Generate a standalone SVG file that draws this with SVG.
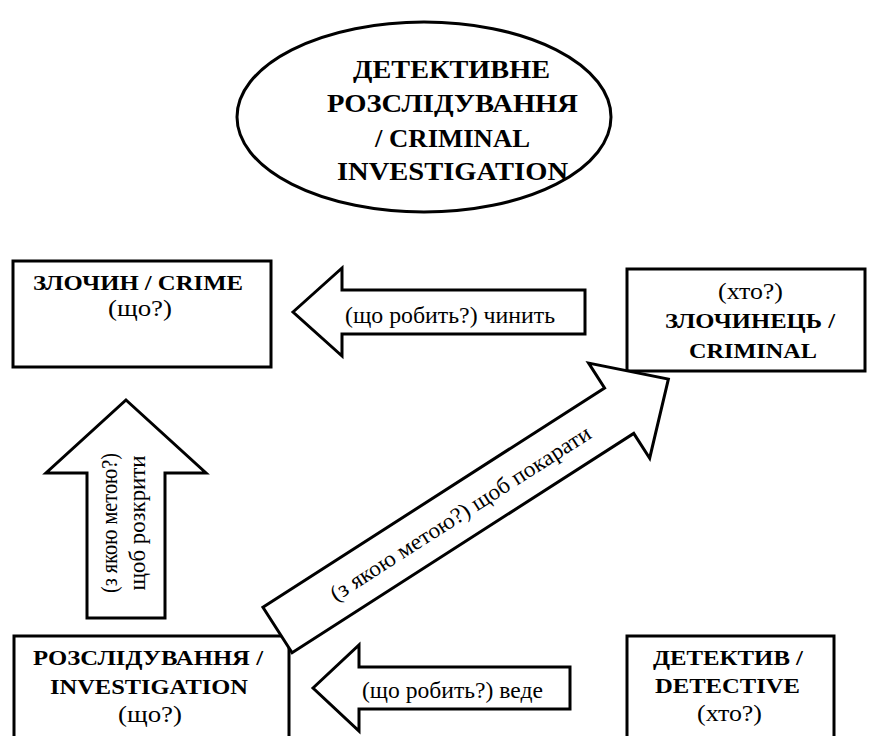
<svg xmlns="http://www.w3.org/2000/svg" width="869" height="736" viewBox="0 0 869 736">
<style>
.shape{fill:#fff;stroke:#000;stroke-width:3;stroke-linejoin:miter}
.t{font-family:"Liberation Serif","DejaVu Serif",serif;font-weight:700;font-size:25px;text-anchor:middle;fill:#000}
.b{font-family:"Liberation Serif","DejaVu Serif",serif;font-weight:700;font-size:21.3px;text-anchor:middle;fill:#000}
.r{font-family:"Liberation Serif","DejaVu Serif",serif;font-size:22.5px;text-anchor:middle;fill:#000}
</style>
<rect width="869" height="736" fill="#fff"/>
<g id="nodes">
  <g id="title">
    <ellipse class="shape" cx="424" cy="117" rx="187" ry="95"/>
    <text class="t" x="451.5" y="78" textLength="197" lengthAdjust="spacingAndGlyphs">ДЕТЕКТИВНЕ</text>
    <text class="t" x="452.5" y="112" textLength="251" lengthAdjust="spacingAndGlyphs">РОЗСЛІДУВАННЯ</text>
    <text class="t" x="452.5" y="146.5" textLength="155" lengthAdjust="spacingAndGlyphs">/ CRIMINAL</text>
    <text class="t" x="452.5" y="180" textLength="231" lengthAdjust="spacingAndGlyphs">INVESTIGATION</text>
  </g>
  <g id="crime">
    <rect class="shape" x="13" y="261" width="258" height="106"/>
    <text class="b" x="138" y="290" textLength="210" lengthAdjust="spacingAndGlyphs">ЗЛОЧИН / CRIME</text>
    <text class="r" x="140" y="316" textLength="64" lengthAdjust="spacingAndGlyphs">(що?)</text>
  </g>
  <g id="criminal">
    <rect class="shape" x="627" y="269" width="238" height="102"/>
    <text class="r" x="750.5" y="299" textLength="65" lengthAdjust="spacingAndGlyphs">(хто?)</text>
    <text class="b" x="750" y="328" textLength="170" lengthAdjust="spacingAndGlyphs">ЗЛОЧИНЕЦЬ /</text>
    <text class="b" x="753" y="358" textLength="128" lengthAdjust="spacingAndGlyphs">CRIMINAL</text>
  </g>
  <g id="investigation">
    <rect class="shape" x="14" y="636" width="275" height="120"/>
    <text class="b" x="148" y="665" textLength="230" lengthAdjust="spacingAndGlyphs">РОЗСЛІДУВАННЯ /</text>
    <text class="b" x="149" y="694" textLength="198" lengthAdjust="spacingAndGlyphs">INVESTIGATION</text>
    <text class="r" x="150" y="722" textLength="64" lengthAdjust="spacingAndGlyphs">(що?)</text>
  </g>
  <g id="detective">
    <rect class="shape" x="627" y="636" width="207" height="120"/>
    <text class="b" x="728" y="665" textLength="150" lengthAdjust="spacingAndGlyphs">ДЕТЕКТИВ /</text>
    <text class="b" x="727.5" y="693" textLength="145" lengthAdjust="spacingAndGlyphs">DETECTIVE</text>
    <text class="r" x="729.5" y="721" textLength="65" lengthAdjust="spacingAndGlyphs">(хто?)</text>
  </g>
</g>
<g id="connectors">
  <g id="arrow-commits">
    <polygon class="shape" points="293,312 342,268 342,290 585,290 585,334 342,334 342,356"/>
    <text class="r" x="450" y="323" textLength="210" lengthAdjust="spacingAndGlyphs">(що робить?) чинить</text>
  </g>
  <g id="arrow-leads">
    <polygon class="shape" points="313,688 359,645 359,667 570,667 570,709 359,709 359,731"/>
    <text class="r" x="452.5" y="698" textLength="181" lengthAdjust="spacingAndGlyphs">(що робить?) веде</text>
  </g>
  <g id="arrow-uncover">
    <polygon class="shape" points="126,400 206,473 165,473 165,618 87,618 87,473 46,473"/>
    <text class="r" transform="translate(117,523) rotate(-90)" textLength="140" lengthAdjust="spacingAndGlyphs">(з якою метою?)</text>
    <text class="r" transform="translate(145,523) rotate(-90)" textLength="135" lengthAdjust="spacingAndGlyphs">щоб розкрити</text>
  </g>
  <g id="arrow-punish" transform="translate(277.5,630) rotate(-32.7)">
    <polygon class="shape" points="0,-27 406,-27 406,-56.5 464.5,0 406,56.5 406,27 0,27"/>
    <text class="r" x="217" y="8" textLength="305" lengthAdjust="spacingAndGlyphs">(з якою метою?) щоб покарати</text>
  </g>
</g>
</svg>
